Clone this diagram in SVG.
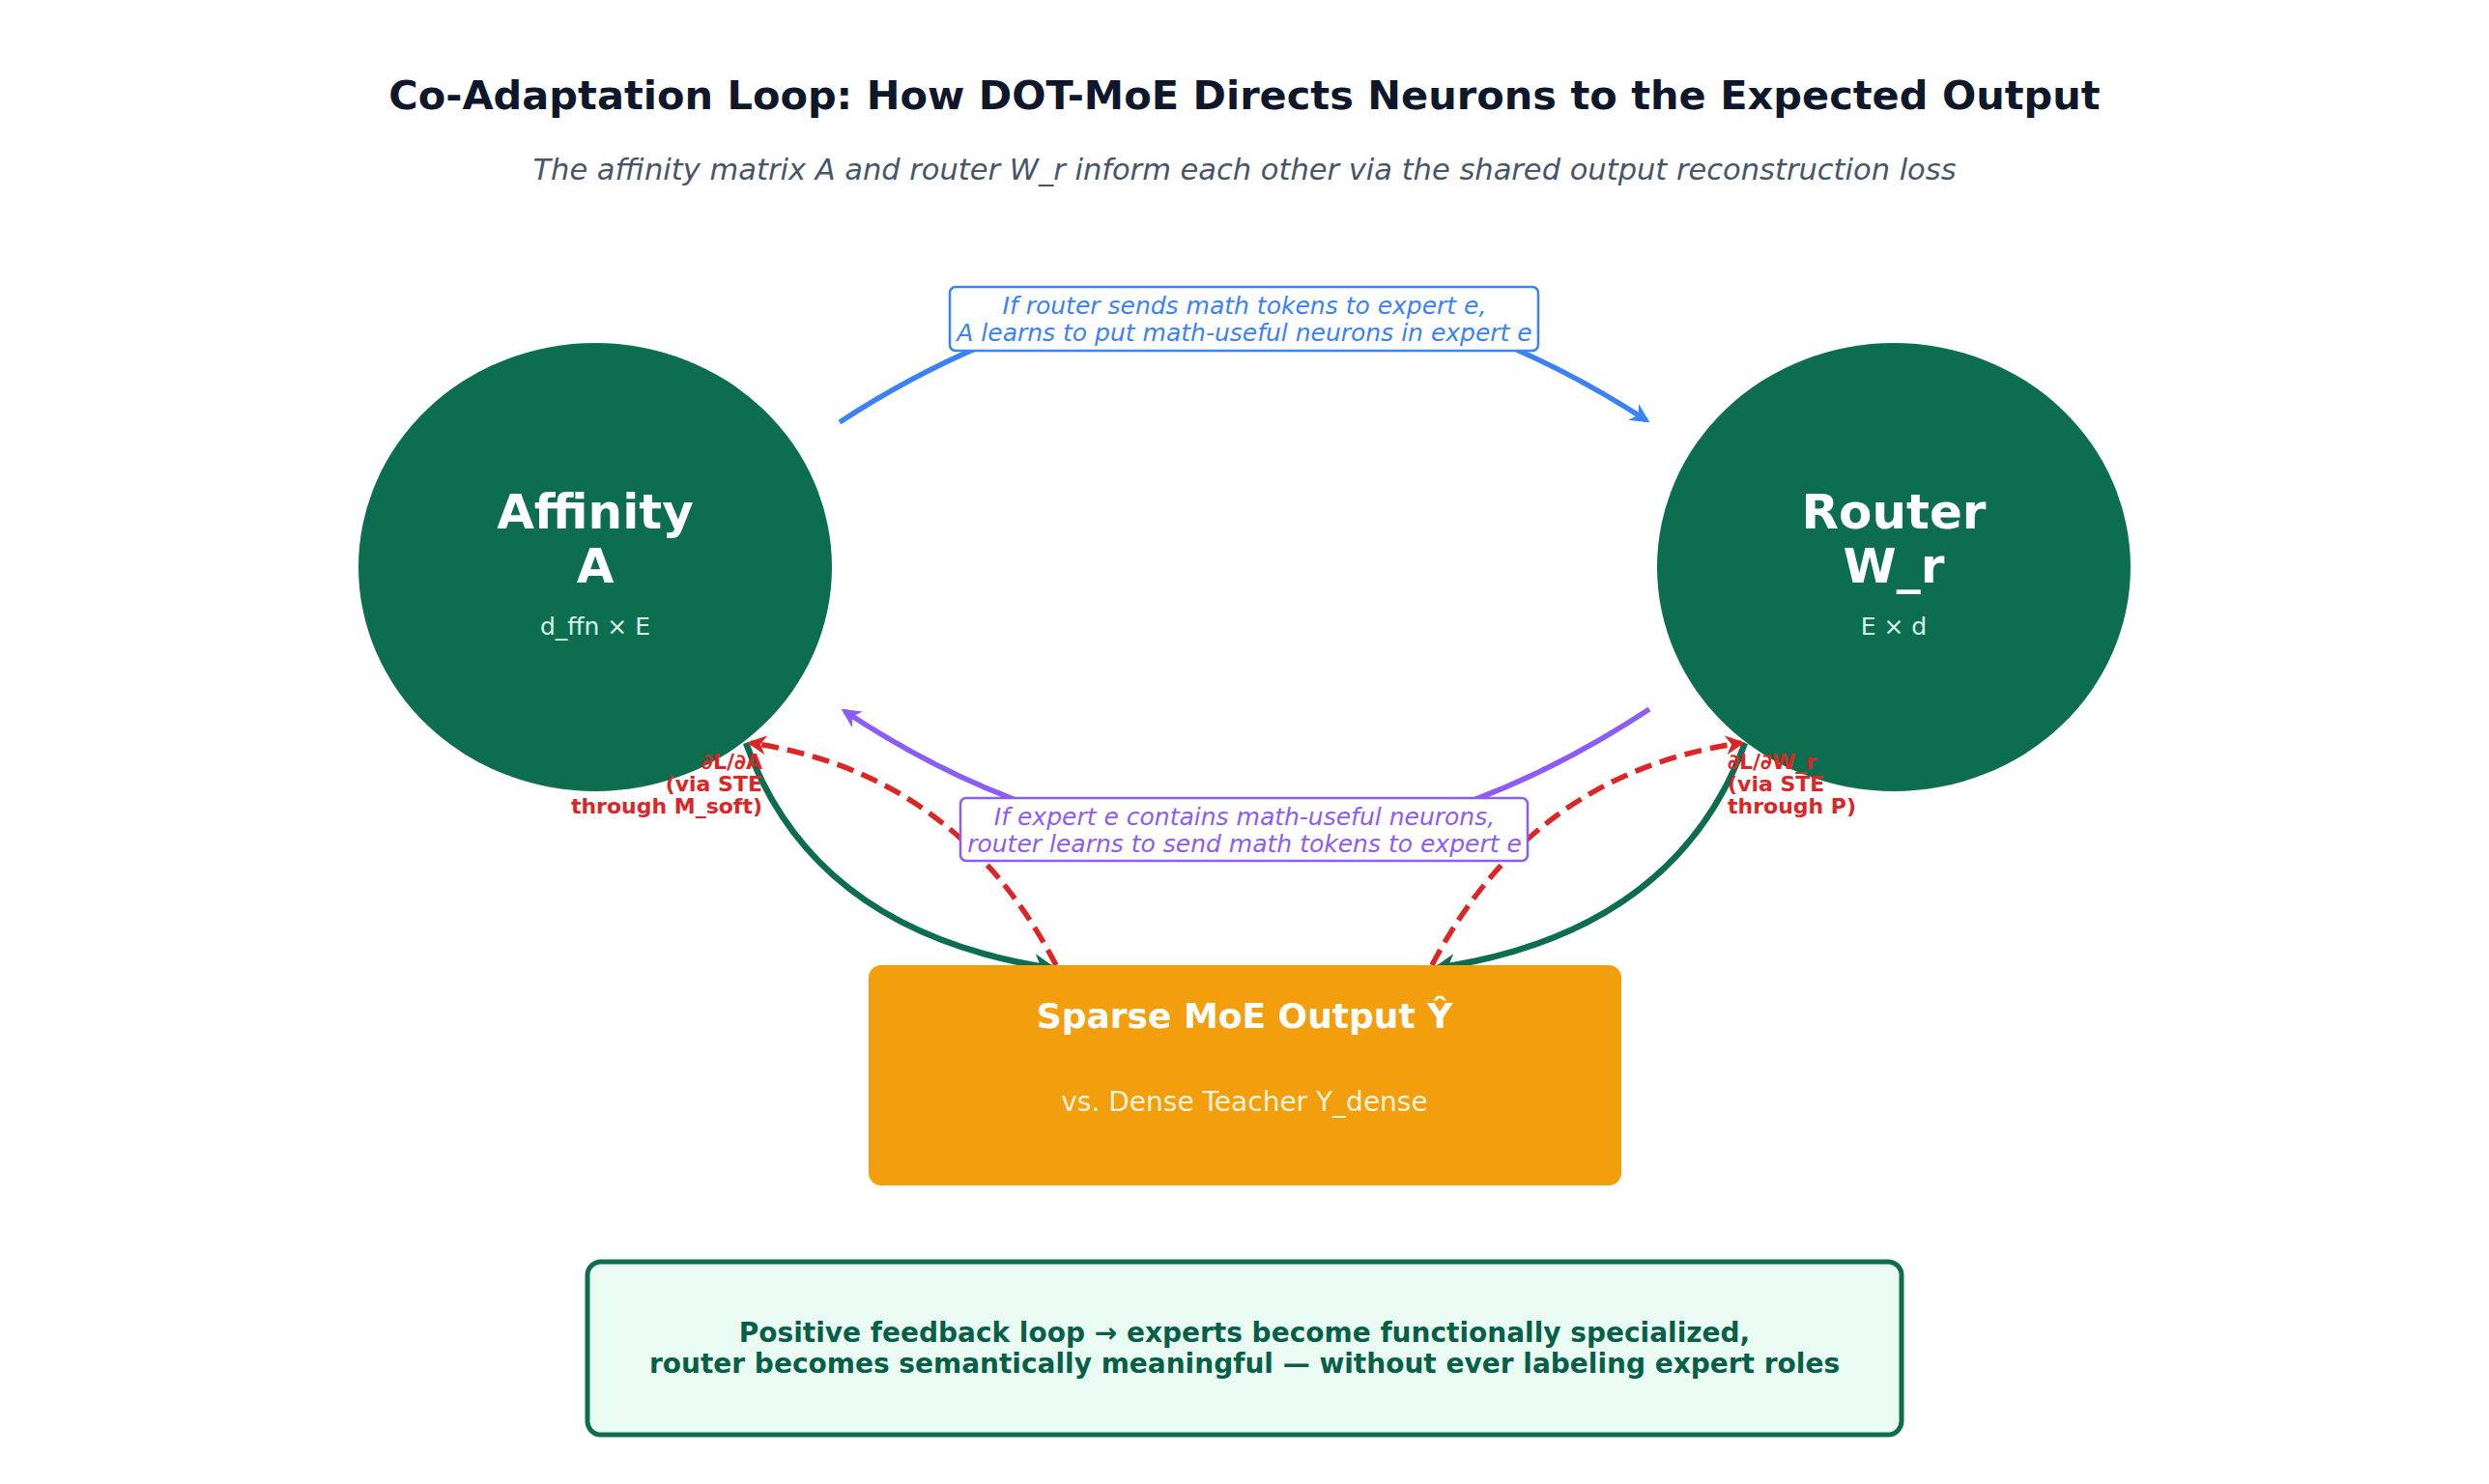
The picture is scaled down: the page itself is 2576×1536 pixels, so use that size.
<svg xmlns="http://www.w3.org/2000/svg" width="2576" height="1536" viewBox="0 0 2576 1536">
<style>
text{font-family:"DejaVu Sans","Noto Sans",sans-serif}
.node{fill:#0d6e4f}
.nt{fill:#fff;font-weight:bold;font-size:50px;text-anchor:middle}
.ns{fill:#d9f3e8;font-size:25px;text-anchor:middle}
.lbl{font-style:italic;font-size:25px;text-anchor:middle}
.red{fill:#dc2626;font-weight:bold;font-size:22px}
</style>
<defs>
<marker id="mp" viewBox="0 0 10 10" markerWidth="20" markerHeight="20" refX="8" refY="5" orient="auto" markerUnits="userSpaceOnUse"><path d="M0,0 L10,5 L0,10 L3,5 Z" fill="#8b5cf6"/></marker>
<marker id="mbl" viewBox="0 0 10 10" markerWidth="20" markerHeight="20" refX="8" refY="5" orient="auto" markerUnits="userSpaceOnUse"><path d="M0,0 L10,5 L0,10 L3,5 Z" fill="#3b82f6"/></marker>
<marker id="mg" viewBox="0 0 10 10" markerWidth="24" markerHeight="24" refX="8" refY="5" orient="auto" markerUnits="userSpaceOnUse"><path d="M0,0 L10,5 L0,10 L3,5 Z" fill="#0d6e4f"/></marker>
<marker id="mr" viewBox="0 0 10 10" markerWidth="20" markerHeight="20" refX="8" refY="5" orient="auto" markerUnits="userSpaceOnUse"><path d="M0,0 L10,5 L0,10 L3,5 Z" fill="#dc2626"/></marker>
</defs>
<rect width="2576" height="1536" fill="#fff"/>
<text x="1288" y="113" text-anchor="middle" font-size="41.5" font-weight="bold" fill="#0f172a">Co-Adaptation Loop: How DOT-MoE Directs Neurons to the Expected Output</text>
<text x="1288" y="186" text-anchor="middle" font-size="30.5" font-style="italic" fill="#475569">The affinity matrix A and router W_r inform each other via the shared output reconstruction loss</text>

<g id="connectors" fill="none">
<path d="M869,437 Q1288,165 1704,435" stroke="#3b82f6" stroke-width="5.5" marker-end="url(#mbl)"/>
<path d="M1707,734 Q1288,1010 874,736" stroke="#8b5cf6" stroke-width="5.5" marker-end="url(#mp)"/>
<path d="M772,769 Q842,965 1089,1002" stroke="#0d6e4f" stroke-width="6.5" marker-end="url(#mg)"/>
<path d="M1806,769 Q1734,965 1487,1002" stroke="#0d6e4f" stroke-width="6.5" marker-end="url(#mg)"/>
<path d="M1093,999 Q990,800 777,769" stroke="#dc2626" stroke-width="5.5" stroke-dasharray="18,9" marker-end="url(#mr)"/>
<path d="M1482,999 Q1586,800 1802,769" stroke="#dc2626" stroke-width="5.5" stroke-dasharray="18,9" marker-end="url(#mr)"/>
</g>

<g id="label-top">
<rect x="983" y="297" width="609" height="66" rx="6" fill="#fff" stroke="#3b82f6" stroke-width="2.5"/>
<text class="lbl" x="1288" y="325" fill="#3b82f6">If router sends math tokens to expert e,</text>
<text class="lbl" x="1288" y="353" fill="#3b82f6">A learns to put math-useful neurons in expert e</text>
</g>
<g id="label-mid">
<rect x="994" y="826" width="587" height="65" rx="6" fill="#fff" stroke="#8b5cf6" stroke-width="2.5"/>
<text class="lbl" x="1288" y="854" fill="#8b5cf6">If expert e contains math-useful neurons,</text>
<text class="lbl" x="1288" y="882" fill="#8b5cf6">router learns to send math tokens to expert e</text>
</g>

<g id="affinity">
<ellipse class="node" cx="616" cy="587" rx="245" ry="232"/>
<text class="nt" x="616" y="547">Affinity</text>
<text class="nt" x="616" y="603">A</text>
<text class="ns" x="616" y="657">d_ffn × E</text>
</g>
<g id="router">
<ellipse class="node" cx="1960" cy="587" rx="245" ry="232"/>
<text class="nt" x="1960" y="547">Router</text>
<text class="nt" x="1960" y="603">W_r</text>
<text class="ns" x="1960" y="657">E × d</text>
</g>

<g id="grad-labels">
<text class="red" x="789" y="796" text-anchor="end">∂L/∂A</text>
<text class="red" x="789" y="819" text-anchor="end">(via STE</text>
<text class="red" x="789" y="842" text-anchor="end">through M_soft)</text>
<text class="red" x="1788" y="796">∂L/∂W_r</text>
<text class="red" x="1788" y="819">(via STE</text>
<text class="red" x="1788" y="842">through P)</text>
</g>

<g id="output">
<rect x="899" y="999" width="779" height="228" rx="13" fill="#f39e0c"/>
<text x="1288" y="1064" text-anchor="middle" font-size="36" font-weight="bold" fill="#fff">Sparse MoE Output Ŷ</text>
<text x="1288" y="1150" text-anchor="middle" font-size="28" fill="#fdf3dc">vs. Dense Teacher Y_dense</text>
</g>

<g id="summary">
<rect x="608" y="1306" width="1360" height="179" rx="14" fill="#eafbf3" stroke="#0d6e4f" stroke-width="5"/>
<text x="1288" y="1389" text-anchor="middle" font-size="28" font-weight="bold" fill="#065f46">Positive feedback loop → experts become functionally specialized,</text>
<text x="1288" y="1421" text-anchor="middle" font-size="28" font-weight="bold" fill="#065f46">router becomes semantically meaningful — without ever labeling expert roles</text>
</g>
</svg>
